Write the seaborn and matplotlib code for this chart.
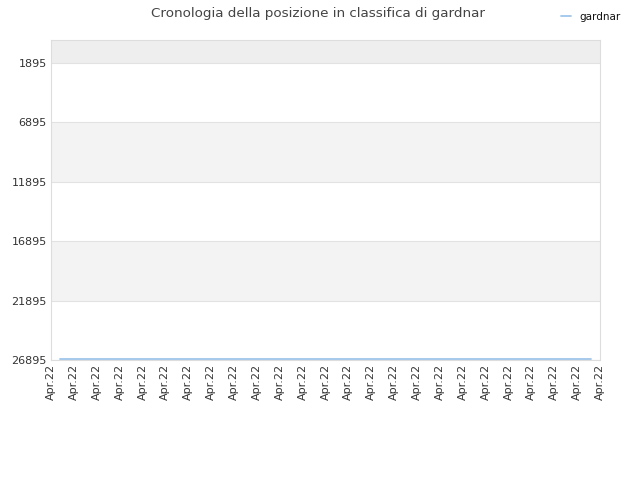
import matplotlib
matplotlib.use("Agg")
import matplotlib.pyplot as plt
import seaborn as sns
import pandas as pd

# chart data
x_labels = ["Apr.22"] * 25
y_ticks = [1895, 6895, 11895, 16895, 21895, 26895]
line_x = [0.4, 4.0, 8.0, 12.0, 16.0, 20.0, 23.6]
line_rank = [26820, 26820, 26820, 26820, 26820, 26820, 26820]
player = "gardnar"

sns.set_style("white")
plt.rcParams["font.family"] = ["DejaVu Sans"]

fig = plt.figure(figsize=(6.4, 4.8), dpi=100)
ax = fig.add_axes([0.0797, 0.25, 0.8578, 0.6667])

# alternating background bands
ax.axhspan(-50, y_ticks[0], color="#eeeeee", zorder=0, lw=0)
for i in range(len(y_ticks) - 1):
    if i % 2 == 1:
        ax.axhspan(y_ticks[i], y_ticks[i + 1], color="#f3f3f3", zorder=0, lw=0)

df = pd.DataFrame({"x": line_x, "rank": line_rank})
sns.lineplot(data=df, x="x", y="rank", ax=ax, color="#9fc5ea", lw=1.3,
             label=player, legend=False, zorder=5)

ax.set_xlim(0, len(x_labels) - 1)
ax.set_ylim(y_ticks[-1], -50)
ax.set_xticks(range(len(x_labels)))
ax.set_xticklabels(x_labels, rotation=90, fontsize=8, color="#333333")
ax.set_yticks(y_ticks)
ax.set_yticklabels([str(t) for t in y_ticks], fontsize=8, color="#333333")
ax.tick_params(length=0, pad=3)
ax.set_xlabel("")
ax.set_ylabel("")
for t in y_ticks:
    ax.axhline(t, color="#e2e2e2", lw=0.8, zorder=1)
for s in ax.spines.values():
    s.set_color("#dddddd")
    s.set_linewidth(0.8)

fig.suptitle("Cronologia della posizione in classifica di gardnar", x=0.497, y=0.985,
             fontsize=9.7, color="#444444")
fig.legend(handles=ax.get_lines()[:1], labels=[player], loc="upper right",
           bbox_to_anchor=(0.985, 0.995), frameon=False, fontsize=7.5,
           handlelength=1.0, handletextpad=0.8, labelcolor="#111111")

fig.savefig("out.png", dpi=100)
